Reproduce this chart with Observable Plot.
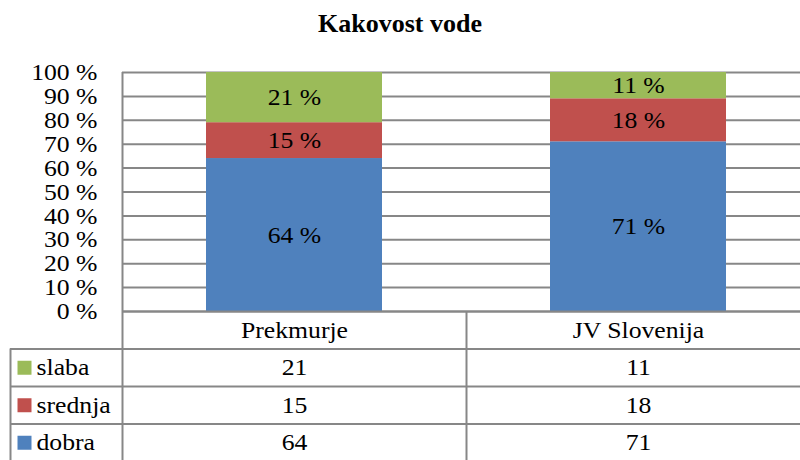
<!DOCTYPE html>
<html>
<head>
<meta charset="utf-8">
<script src="https://cdn.jsdelivr.net/npm/d3@7"></script>
<script src="https://cdn.jsdelivr.net/npm/@observablehq/plot@0.6"></script>
<style>
  html, body { margin: 0; padding: 0; background: #fff; }
  body { width: 800px; height: 460px; overflow: hidden; position: relative; color: #000; }
  #title { position: absolute; left: 0; top: 9px; width: 800px; text-align: center;
           font-family: 'Liberation Serif'; font-weight: bold; font-size: 26px; line-height: 30px; }
  #chart { position: absolute; left: 0; top: 60px; }
  #table { position: absolute; left: 0; top: 301px; }
</style>
</head>
<body>
<div id="title">Kakovost vode</div>
<div id="chart"></div>
<div id="table"></div>
<script>
// ---- data ----
const categories = ["Prekmurje", "JV Slovenija"];
const stackOrder = ["dobra", "srednja", "slaba"];   // bottom to top
const dobra = [64, 71];
const srednja = [15, 18];
const slaba = [21, 11];
const tableRows = ["slaba", "srednja", "dobra"];    // table order
const yTicks = [0, 10, 20, 30, 40, 50, 60, 70, 80, 90, 100];
const seriesColors = ["#4F81BD", "#C0504D", "#9BBB59"];

const valuesBySeries = { dobra, srednja, slaba };

// stacked records
const stacked = [];
categories.forEach((cat, i) => {
  let base = 0;
  stackOrder.forEach(s => {
    const v = valuesBySeries[s][i];
    stacked.push({ i, category: cat, series: s, value: v, y1: base, y2: base + v });
    base += v;
  });
});

// table cells
const cells = [];
tableRows.forEach((s, r) => {
  categories.forEach((cat, i) => {
    cells.push({ row: r, i, value: valuesBySeries[s][i] });
  });
});

const n = categories.length;
const gridColor = "#878787";
const fontFamily = "Liberation Serif";
const fontSize = 24;
const xScale = { type: "linear", domain: [-1, 0, n], range: [10, 122, 810] };
const colorScale = { domain: stackOrder, range: seriesColors };
const txt = { fill: "#000", fontSize, fontFamily };

// the reference text is slightly wider than plain Times metrics
function widen(svg, k) {
  svg.querySelectorAll("text").forEach(el => {
    const w = el.getComputedTextLength();
    if (w > 0) {
      el.setAttribute("textLength", (w * k).toFixed(1));
      el.setAttribute("lengthAdjust", "spacingAndGlyphs");
    }
  });
}

const chart = Plot.plot({
  width: 800, height: 270,
  marginLeft: 122, marginRight: 0, marginTop: 12, marginBottom: 19,
  style: { background: "transparent", overflow: "visible" },
  x: { ...xScale, axis: null },
  y: { domain: [0, 100], range: [251, 12], axis: null },
  color: colorScale,
  marks: [
    Plot.ruleY(yTicks, { y: d => d, x1: 0, x2: n, stroke: gridColor, strokeWidth: 2 }),
    Plot.ruleX([0], { x: d => d, y1: 0, y2: 100, stroke: gridColor, strokeWidth: 2 }),
    Plot.text(yTicks, { x: 0, y: d => d, text: d => `${d} %`, textAnchor: "end", dx: -25, ...txt }),
    Plot.rectY(stacked, { x1: d => d.i, x2: d => d.i + 1, y1: "y1", y2: "y2", fill: "series",
                          insetLeft: 84, insetRight: 84 }),
    Plot.text(stacked, { x: d => d.i + 0.5, y: d => (d.y1 + d.y2) / 2, text: d => `${d.value} %`, ...txt })
  ]
});
document.getElementById("chart").appendChild(chart);
widen(chart, 1.07);

const table = Plot.plot({
  width: 800, height: 159,
  marginLeft: 10, marginRight: 0, marginTop: 10, marginBottom: 0,
  style: { background: "transparent", overflow: "visible" },
  x: { ...xScale, axis: null },
  y: { domain: [0, 4], range: [10, 160], axis: null },
  color: colorScale,
  marks: [
    Plot.ruleY([0], { y: d => d, x1: 0, x2: n, stroke: gridColor, strokeWidth: 2 }),
    Plot.ruleY([1, 2, 3, 4], { y: d => d, x1: -1, x2: n, stroke: gridColor, strokeWidth: 2 }),
    Plot.ruleX([-1], { x: d => d, y1: 1, y2: 4, stroke: gridColor, strokeWidth: 2 }),
    Plot.ruleX(d3.range(n), { x: d => d, y1: 0, y2: 4, stroke: gridColor, strokeWidth: 2 }),
    Plot.text(categories, { x: (d, i) => i + 0.5, y: 0.5, text: d => d, ...txt }),
    Plot.dot(tableRows, { x: -1, y: (d, i) => i + 1.5, symbol: "square", r: 7.9, fill: d => d, dx: 14 }),
    Plot.text(tableRows, { x: -1, y: (d, i) => i + 1.5, text: d => d, textAnchor: "start", dx: 26, ...txt }),
    Plot.text(cells, { x: d => d.i + 0.5, y: d => d.row + 1.5, text: d => String(d.value), ...txt })
  ]
});
document.getElementById("table").appendChild(table);
widen(table, 1.07);
</script>
</body>
</html>
